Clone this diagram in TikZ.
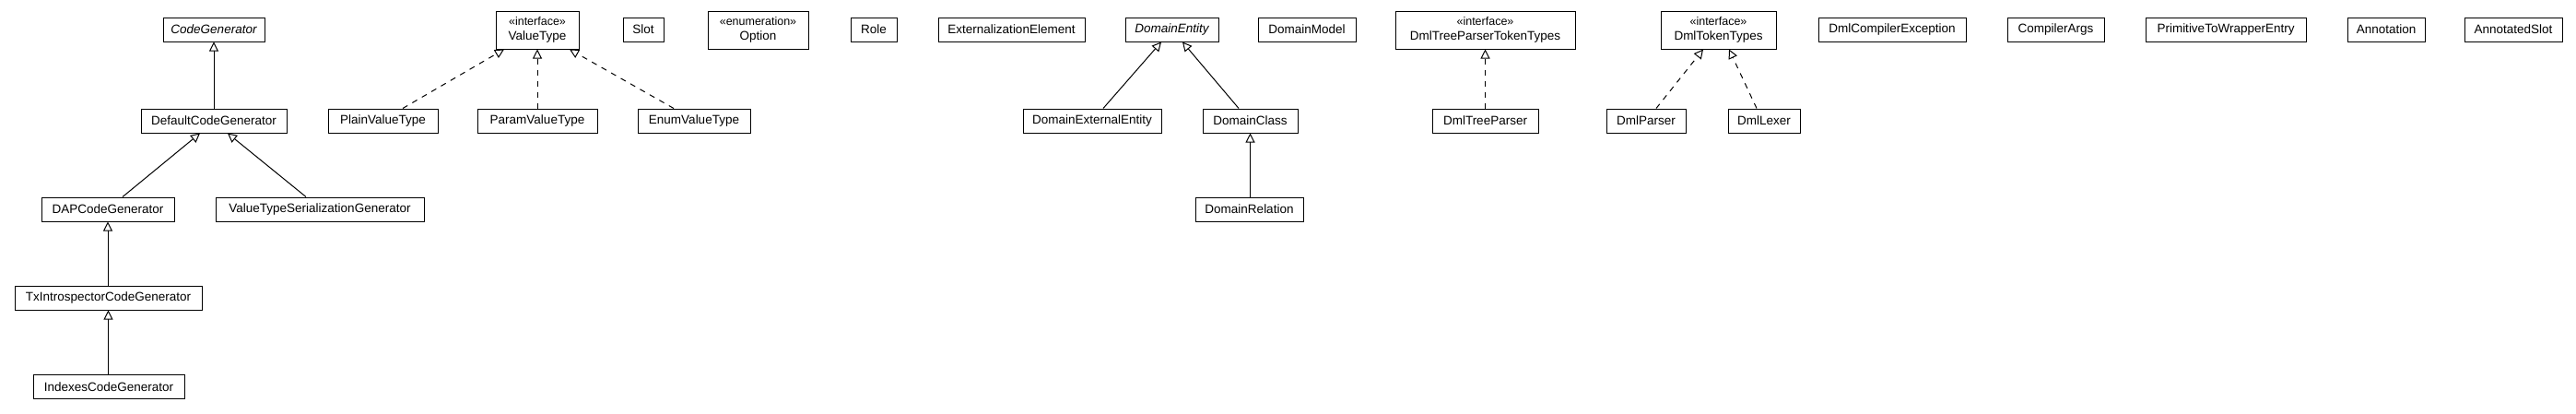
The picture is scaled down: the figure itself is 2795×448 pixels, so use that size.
\documentclass[tikz,border=0pt]{standalone}
\usepackage{fontspec}
\setmainfont{Liberation Sans}
\usetikzlibrary{arrows.meta}
\begin{document}
\begin{tikzpicture}[x=1pt,y=-1pt,
  cls/.style={draw, line width=1pt, inner sep=0pt, minimum height=26pt, minimum width=#1,
    font=\fontsize{13.5}{16}\selectfont, align=center},
  abs/.style={cls=#1, font=\fontsize{13.5}{16}\selectfont\itshape},
  iface/.style={cls=#1, minimum height=41pt},
  gen/.style={line width=1pt, -{Triangle[open,length=10pt,width=10pt,line width=1pt]}},
  real/.style={gen, dash pattern=on 6pt off 6pt}
]
\useasboundingbox (0,0) rectangle (2795,448);
\fill[white] (0,0) rectangle (2795,448);
\newcommand{\stq}[1]{{\fontsize{12.5}{16}\selectfont «#1»}}

% code generators
\node[abs=110pt] (cg) at (232,32) {CodeGenerator};
\node[cls=158pt] (dcg) at (232,131) {DefaultCodeGenerator};
\node[cls=144pt] (dap) at (117,227) {DAPCodeGenerator};
\node[cls=226pt] (vtsg) at (347,227) {ValueTypeSerializationGenerator};
\node[cls=203pt] (tx) at (117.5,323) {TxIntrospectorCodeGenerator};
\node[cls=164pt] (idx) at (118,419.5) {IndexesCodeGenerator};

% value types
\node[iface=90pt] (vt) at (583,32.5) {\stq{interface}\\ValueType};
\node[cls=119pt] (plain) at (415.5,131) {PlainValueType};
\node[cls=130pt] (param) at (583,131) {ParamValueType};
\node[cls=122pt] (enum) at (753,131) {EnumValueType};
\node[cls=44pt] (slot) at (698,32) {Slot};
\node[iface=109pt] (option) at (822.5,32.5) {\stq{enumeration}\\Option};
\node[cls=50pt] (role) at (948,32) {Role};

% domain
\node[cls=159pt] (ext) at (1097.5,32) {ExternalizationElement};
\node[abs=101pt] (de) at (1271.5,32) {DomainEntity};
\node[cls=106pt] (dm) at (1418,32) {DomainModel};
\node[cls=150pt] (dee) at (1185,131) {DomainExternalEntity};
\node[cls=103pt] (dc) at (1356.5,131) {DomainClass};
\node[cls=117pt] (dr) at (1355.5,227) {DomainRelation};

% dml
\node[iface=195pt] (dtptt) at (1611.5,32.5) {\stq{interface}\\DmlTreeParserTokenTypes};
\node[iface=125pt] (dtt) at (1864.5,32.5) {\stq{interface}\\DmlTokenTypes};
\node[cls=160pt] (dce) at (2053,32) {DmlCompilerException};
\node[cls=115pt] (dtp) at (1611.5,131) {DmlTreeParser};
\node[cls=86pt] (dp) at (1786,131) {DmlParser};
\node[cls=78pt] (dl) at (1914,131) {DmlLexer};

% others
\node[cls=105pt] (ca) at (2230.5,32) {CompilerArgs};
\node[cls=174pt] (ptwe) at (2415,32) {PrimitiveToWrapperEntry};
\node[cls=84pt] (ann) at (2589,32) {Annotation};
\node[cls=106pt] (as) at (2727,32) {AnnotatedSlot};

% generalizations
\draw[gen] (dcg.north) -- (cg.south);
\draw[gen] ([xshift=16pt]dap.north) -- ([xshift=-15pt]dcg.south);
\draw[gen] ([xshift=-15pt]vtsg.north) -- ([xshift=15pt]dcg.south);
\draw[gen] (tx.north -| dap.south) -- (dap.south);
\draw[gen] (idx.north -| tx.south) -- (tx.south);
\draw[gen] ([xshift=12pt]dee.north) -- ([xshift=-11.5pt]de.south);
\draw[gen] ([xshift=-12.5pt]dc.north) -- ([xshift=11.5pt]de.south);
\draw[gen] (dr.north -| dc.south) -- (dc.south);

% realizations
\draw[real] ([xshift=21.5pt]plain.north) -- ([xshift=-36pt]vt.south);
\draw[real] (param.north) -- (vt.south);
\draw[real] ([xshift=-22pt]enum.north) -- ([xshift=35pt]vt.south);
\draw[real] (dtp.north) -- (dtptt.south);
\draw[real] ([xshift=11pt]dp.north) -- ([xshift=-16.5pt]dtt.south);
\draw[real] ([xshift=-8pt]dl.north) -- ([xshift=11.5pt]dtt.south);
\end{tikzpicture}
\end{document}
